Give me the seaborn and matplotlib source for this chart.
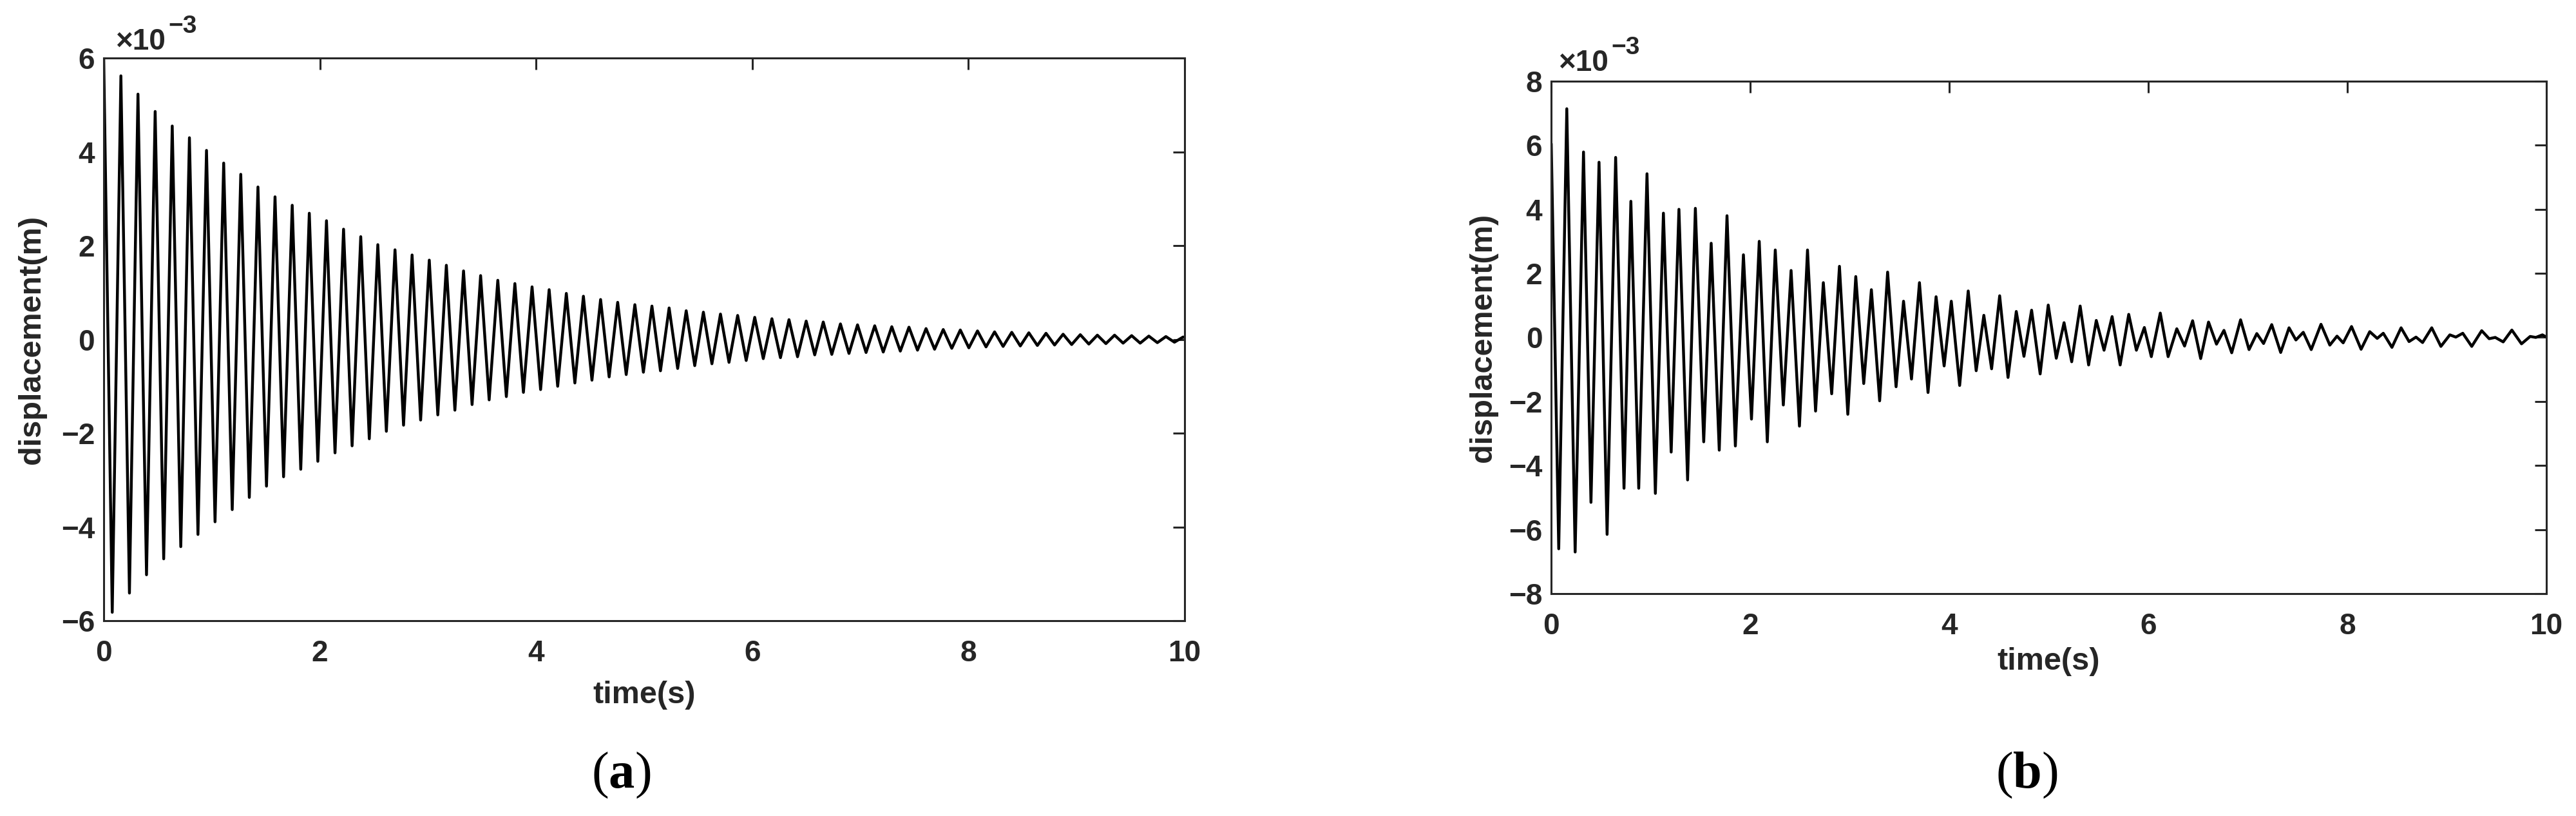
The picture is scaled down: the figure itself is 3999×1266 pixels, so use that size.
import numpy as np
import pandas as pd
import seaborn as sns
import matplotlib.pyplot as plt

# ---------------- data (displacement in units of 1e-3 m) ----------------

# (a) peaks and troughs of the decaying response
peak_t_a = [0.000, 0.159, 0.317, 0.476, 0.634, 0.793, 0.951, 1.110, 1.268, 1.427,
            1.585, 1.744, 1.902, 2.061, 2.219, 2.378, 2.536, 2.695, 2.853, 3.012,
            3.170, 3.329, 3.487, 3.646, 3.804, 3.963, 4.121, 4.280, 4.438, 4.597,
            4.755, 4.914, 5.072, 5.231, 5.389, 5.548, 5.706, 5.865, 6.023, 6.182,
            6.340, 6.499, 6.657, 6.816, 6.974, 7.133, 7.291, 7.450, 7.608, 7.767,
            7.925, 8.084, 8.242, 8.401, 8.559, 8.718, 8.876, 9.035, 9.193, 9.352,
            9.510, 9.669, 9.827, 9.986]
peak_v_a = [6.00, 5.62, 5.23, 4.86, 4.55, 4.30, 4.03, 3.76, 3.52, 3.25,
            3.04, 2.86, 2.69, 2.53, 2.35, 2.19, 2.02, 1.91, 1.80, 1.69,
            1.58, 1.46, 1.36, 1.26, 1.19, 1.12, 1.06, 0.98, 0.92, 0.85,
            0.79, 0.74, 0.71, 0.67, 0.61, 0.58, 0.54, 0.51, 0.47, 0.44,
            0.42, 0.39, 0.37, 0.33, 0.31, 0.29, 0.27, 0.26, 0.23, 0.21,
            0.20, 0.18, 0.16, 0.15, 0.14, 0.13, 0.11, 0.10, 0.09, 0.09,
            0.08, 0.07, 0.06, 0.05]
trough_t_a = [0.079, 0.238, 0.396, 0.555, 0.713, 0.872, 1.030, 1.189, 1.347, 1.506,
              1.664, 1.823, 1.981, 2.140, 2.298, 2.457, 2.615, 2.774, 2.932, 3.091,
              3.249, 3.408, 3.566, 3.725, 3.883, 4.042, 4.200, 4.359, 4.517, 4.676,
              4.834, 4.993, 5.151, 5.310, 5.468, 5.627, 5.785, 5.944, 6.102, 6.261,
              6.419, 6.578, 6.736, 6.895, 7.053, 7.212, 7.370, 7.529, 7.687, 7.846,
              8.004, 8.163, 8.321, 8.480, 8.638, 8.797, 8.955, 9.114, 9.272, 9.431,
              9.589, 9.748, 9.906]
trough_v_a = [-5.82, -5.41, -5.02, -4.68, -4.42, -4.16, -3.89, -3.63, -3.37, -3.13,
              -2.93, -2.77, -2.60, -2.42, -2.27, -2.12, -1.96, -1.83, -1.72, -1.61,
              -1.51, -1.39, -1.29, -1.22, -1.13, -1.07, -1.00, -0.93, -0.87, -0.80,
              -0.75, -0.70, -0.67, -0.62, -0.56, -0.52, -0.49, -0.45, -0.41, -0.39,
              -0.37, -0.33, -0.32, -0.30, -0.28, -0.27, -0.25, -0.23, -0.21, -0.19,
              -0.18, -0.16, -0.15, -0.14, -0.13, -0.12, -0.11, -0.10, -0.09, -0.08,
              -0.08, -0.07, -0.06]
end_t_a = [10.0]
end_v_a = [0.04]

# (b) extrema of the beating response
time_b = [0.000, 0.075, 0.156, 0.240, 0.324, 0.399, 0.480, 0.561, 0.647, 0.731,
          0.800, 0.879, 0.962, 1.046, 1.127, 1.205, 1.283, 1.370, 1.448, 1.532,
          1.607, 1.688, 1.766, 1.850, 1.931, 2.012, 2.090, 2.171, 2.251, 2.332,
          2.410, 2.494, 2.575, 2.656, 2.734, 2.818, 2.896, 2.980, 3.060, 3.140,
          3.217, 3.300, 3.380, 3.465, 3.540, 3.620, 3.700, 3.786, 3.867, 3.948,
          4.020, 4.104, 4.190, 4.270, 4.347, 4.425, 4.506, 4.590, 4.673, 4.750,
          4.827, 4.913, 4.994, 5.075, 5.153, 5.230, 5.315, 5.400, 5.477, 5.555,
          5.636, 5.717, 5.803, 5.880, 5.960, 6.030, 6.120, 6.199, 6.286, 6.364,
          6.445, 6.526, 6.605, 6.685, 6.760, 6.838, 6.927, 7.012, 7.090, 7.158,
          7.240, 7.330, 7.414, 7.483, 7.557, 7.637, 7.735, 7.824, 7.896, 7.958,
          8.042, 8.138, 8.225, 8.300, 8.361, 8.448, 8.540, 8.620, 8.690, 8.756,
          8.848, 8.940, 9.030, 9.090, 9.160, 9.250, 9.350, 9.425, 9.486, 9.566,
          9.653, 9.750, 9.837, 9.894, 9.960, 10.000]
disp_b = [6.05, -6.60, 7.14, -6.70, 5.79, -5.15, 5.47, -6.15, 5.62, -4.71,
          4.25, -4.71, 5.11, -4.87, 3.88, -3.58, 4.00, -4.45, 4.03, -3.26,
          2.94, -3.52, 3.80, -3.39, 2.58, -2.55, 3.00, -3.26, 2.73, -2.11,
          2.09, -2.77, 2.73, -2.30, 1.71, -1.76, 2.22, -2.40, 1.90, -1.44,
          1.49, -1.98, 2.04, -1.54, 1.13, -1.30, 1.71, -1.72, 1.27, -0.89,
          1.13, -1.50, 1.45, -1.04, 0.69, -0.98, 1.30, -1.25, 0.81, -0.59,
          0.85, -1.14, 1.01, -0.65, 0.46, -0.76, 0.98, -0.86, 0.53, -0.40,
          0.65, -0.86, 0.72, -0.40, 0.31, -0.60, 0.76, -0.60, 0.27, -0.27,
          0.52, -0.66, 0.48, -0.21, 0.22, -0.48, 0.55, -0.38, 0.12, -0.19,
          0.40, -0.47, 0.30, -0.08, 0.16, -0.38, 0.41, -0.24, 0.04, -0.17,
          0.34, -0.37, 0.18, -0.03, 0.13, -0.31, 0.30, -0.13, 0.01, -0.16,
          0.30, -0.28, 0.08, 0.01, 0.13, -0.28, 0.21, -0.04, 0.00, -0.14,
          0.23, -0.20, 0.03, 0.00, 0.08, 0.01]

x_ticks = [0, 2, 4, 6, 8, 10]
y_ticks_a = [-6, -4, -2, 0, 2, 4, 6]
y_ticks_b = [-8, -6, -4, -2, 0, 2, 4, 6, 8]

# ---------------- build tables ----------------
df_a = pd.DataFrame({'time': peak_t_a + trough_t_a + end_t_a,
                     'disp': peak_v_a + trough_v_a + end_v_a}).sort_values('time')
df_b = pd.DataFrame({'time': time_b, 'disp': disp_b})

# ---------------- style ----------------
sns.set_theme(style='white')
plt.rcParams['font.family'] = ['Liberation Sans', 'DejaVu Sans']
plt.rcParams['font.weight'] = 'bold'
plt.rcParams['mathtext.fontset'] = 'custom'
plt.rcParams['mathtext.rm'] = 'Liberation Sans:bold'
plt.rcParams['mathtext.bf'] = 'Liberation Serif:bold'

axis_color = '#262626'
tick_size = 33
label_size = 35

fig = plt.figure(figsize=(39.99, 12.66), dpi=100)
ax_a = fig.add_axes([0.04026, 0.2393, 0.4196, 0.6896])
ax_b = fig.add_axes([0.6022, 0.2725, 0.3863, 0.6280])


def style_axes(ax, table, y_ticks, ylim, xlab_y, ylab_x, base_pos):
    sns.lineplot(data=table, x='time', y='disp', ax=ax, color='black',
                 linewidth=3.2, estimator=None, sort=True)
    ax.set_xlim(0, 10)
    ax.set_ylim(*ylim)
    ax.set_xticks(x_ticks)
    ax.set_yticks(y_ticks)
    ax.set_xticklabels([str(v) for v in x_ticks])
    ax.set_yticklabels([str(v).replace('-', '\u2212') for v in y_ticks])
    for s in ax.spines.values():
        s.set_visible(True)
        s.set_linewidth(2.2)
        s.set_color(axis_color)
    ax.tick_params(axis='both', direction='in', length=13, width=2.2,
                   colors=axis_color, top=True, right=True,
                   labelsize=tick_size)
    ax.tick_params(axis='x', pad=21)
    ax.tick_params(axis='y', pad=10)
    for lab in ax.get_xticklabels() + ax.get_yticklabels():
        lab.set_fontweight('bold')
    ax.set_xlabel('time(s)', fontsize=label_size, fontweight='bold', color=axis_color)
    ax.set_ylabel('displacement(m)', fontsize=label_size, fontweight='bold', color=axis_color)
    ax.xaxis.set_label_coords(0.5, xlab_y)
    ax.yaxis.set_label_coords(ylab_x, 0.5)
    # exponent marker of the y axis
    base = ax.text(base_pos[0], base_pos[1], '\u00d710', transform=ax.transAxes,
                   ha='left', va='bottom', fontsize=33, fontweight='bold',
                   color=axis_color)
    ax.annotate('\u22123', xy=(1.0, 0.62), xycoords=base,
                xytext=(3, 0), textcoords='offset points',
                ha='left', va='bottom', fontsize=28, fontweight='bold',
                color=axis_color)


style_axes(ax_a, df_a, y_ticks_a, (-6, 6), -0.107, -0.053, (0.011, 1.004))
style_axes(ax_b, df_b, y_ticks_b, (-8, 8), -0.104, -0.054, (0.007, 1.008))

# panel captions
fig.text(964 / 3999, 1 - 1203 / 1266, r'($\mathbf{a}$)', family='Liberation Serif',
         fontweight='normal', fontsize=58, ha='center', va='center', color='black')
fig.text(3146 / 3999, 1 - 1203 / 1266, r'($\mathbf{b}$)', family='Liberation Serif',
         fontweight='normal', fontsize=58, ha='center', va='center', color='black')

fig.savefig('out.png', dpi=100)
plt.close(fig)
